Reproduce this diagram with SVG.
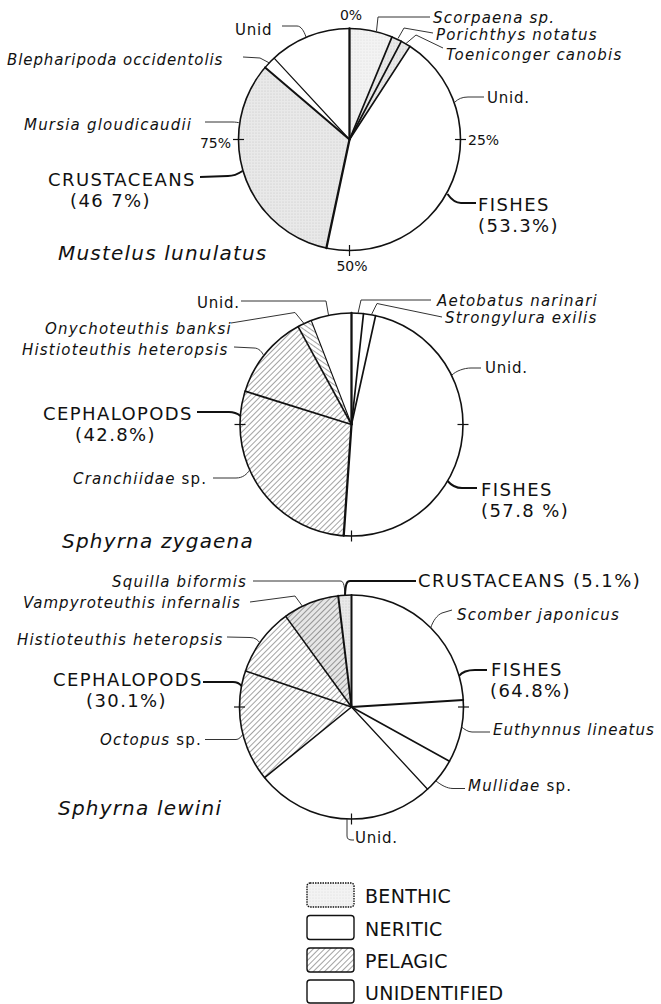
<svg xmlns="http://www.w3.org/2000/svg" width="661" height="1004" viewBox="0 0 661 1004">
<style>
text{font-family:"DejaVu Sans","Liberation Sans",sans-serif;fill:#111}
.sp{font-style:italic;font-size:15px;letter-spacing:1.2px}
.up{font-style:normal}
.cap{font-size:18px;letter-spacing:1.4px}
.pct{font-size:14px}
.title{font-style:italic;font-size:20px;letter-spacing:1.2px}
.unid{font-size:15px;letter-spacing:0.8px}
.leg{font-size:19px;letter-spacing:0.3px}
.outline{fill:none;stroke:#111;stroke-width:1.6}
.div{fill:none;stroke:#111;stroke-width:1.4;stroke-linecap:round}
.divb{fill:none;stroke:#111;stroke-width:2.3;stroke-linecap:round}
.lead{fill:none;stroke:#333;stroke-width:1}
.leadb{fill:none;stroke:#111;stroke-width:2}
.tick{stroke:#111;stroke-width:1.2}
.w{fill:#fff}
.ben{fill:url(#stip)}
.benl{fill:url(#stipl)}
.pel{fill:url(#hatch)}
.pel2{fill:url(#hatch2)}
.box{stroke:#111;stroke-width:1.4}
</style>
<defs>
<pattern id="stip" width="3" height="3" patternUnits="userSpaceOnUse"><rect width="3" height="3" fill="#e9e9e9"/><circle cx="1" cy="1" r="0.55" fill="#c2c2c2"/></pattern>
<pattern id="stipl" width="3" height="3" patternUnits="userSpaceOnUse"><rect width="3" height="3" fill="#f3f3f3"/><circle cx="1" cy="1" r="0.5" fill="#d6d6d6"/></pattern>
<pattern id="hatch" width="4" height="4" patternUnits="userSpaceOnUse" patternTransform="rotate(45)"><rect width="4" height="4" fill="#fff"/><line x1="0" y1="0" x2="0" y2="4" stroke="#333" stroke-width="0.9"/></pattern>
<pattern id="hatch2" width="4" height="4" patternUnits="userSpaceOnUse" patternTransform="rotate(-55)"><rect width="4" height="4" fill="#fff"/><line x1="0" y1="0" x2="0" y2="4" stroke="#333" stroke-width="0.9"/></pattern>
<pattern id="hatchg" width="4" height="4" patternUnits="userSpaceOnUse" patternTransform="rotate(45)"><rect width="4" height="4" fill="#e6e6e6"/><line x1="0" y1="0" x2="0" y2="4" stroke="#333" stroke-width="0.9"/></pattern>
</defs>

<!-- Pie 1: Mustelus lunulatus -->
<g id="pie-mustelus">
<path class="benl" d="M349.5,139.5 L349.5,28.5 A111,111 0 0 1 392,36.9 Z"/>
<path class="ben" d="M349.5,139.5 L392,36.9 A111,111 0 0 1 401.3,41.3 Z"/>
<path class="ben" d="M349.5,139.5 L401.3,41.3 A111,111 0 0 1 410,46.4 Z"/>
<path class="w" d="M349.5,139.5 L410,46.4 A111,111 0 0 1 326.4,248.1 Z"/>
<path class="ben" d="M349.5,139.5 L326.4,248.1 A111,111 0 0 1 265.1,67.4 Z"/>
<path class="w" d="M349.5,139.5 L265.1,67.4 A111,111 0 0 1 274.1,58.1 Z"/>
<path class="w" d="M349.5,139.5 L274.1,58.1 A111,111 0 0 1 349.5,28.5 Z"/>
<circle class="outline" cx="349.5" cy="139.5" r="111"/>
<line class="divb" x1="349.5" y1="139.5" x2="349.5" y2="28.5"/>
<line class="div" x1="349.5" y1="139.5" x2="392" y2="36.9" style="stroke-width:1.7"/>
<line class="div" x1="349.5" y1="139.5" x2="401.3" y2="41.3" style="stroke-width:1.7"/>
<line class="div" x1="349.5" y1="139.5" x2="410" y2="46.4" style="stroke-width:1.7"/>
<line class="divb" x1="349.5" y1="139.5" x2="326.4" y2="248.1"/>
<line class="divb" x1="349.5" y1="139.5" x2="265.1" y2="67.4" style="stroke-width:2"/>
<line class="div" x1="349.5" y1="139.5" x2="274.1" y2="58.1" style="stroke-width:1.2"/>
<line class="tick" x1="455" y1="139.5" x2="466" y2="139.5"/>
<line class="tick" x1="233" y1="139.5" x2="244" y2="139.5"/>
<line class="tick" x1="349.5" y1="245" x2="349.5" y2="256"/>
</g>
<g id="labels-mustelus">
<text class="pct" x="351" y="20" text-anchor="middle">0%</text>
<text class="pct" x="468" y="145">25%</text>
<text class="pct" x="352" y="271" text-anchor="middle">50%</text>
<text class="pct" x="231" y="148" text-anchor="end">75%</text>
<text class="sp" x="433" y="23">Scorpaena sp.</text>
<text class="sp" x="436" y="39.5">Porichthys notatus</text>
<text class="sp" x="446" y="59.5">Toeniconger canobis</text>
<text class="unid" x="487" y="103">Unid.</text>
<text class="cap" x="478" y="211">FISHES<tspan x="478" dy="21">(53.3%)</tspan></text>
<text class="cap" x="48" y="185.5">CRUSTACEANS<tspan x="70" dy="21">(46 7%)</tspan></text>
<text class="sp" x="24" y="129.5">Mursia gloudicaudii</text>
<text class="sp" x="7" y="64.5" style="letter-spacing:0.9px">Blepharipoda occidentolis</text>
<text class="unid" x="235" y="35">Unid</text>
<text class="title" x="58" y="260">Mustelus lunulatus</text>
</g>

<!-- Pie 2: Sphyrna zygaena -->
<g id="pie-zygaena">
<path class="w" d="M351.5,424.5 L351.5,313 A111.5,111.5 0 0 1 363.5,313.6 Z"/>
<path class="w" d="M351.5,424.5 L363.5,313.6 A111.5,111.5 0 0 1 375.6,315.6 Z"/>
<path class="w" d="M351.5,424.5 L375.6,315.6 A111.5,111.5 0 0 1 343.7,535.7 Z"/>
<path class="pel" d="M351.5,424.5 L343.7,535.7 A111.5,111.5 0 0 1 245.1,391.2 Z"/>
<path class="pel" d="M351.5,424.5 L245.1,391.2 A111.5,111.5 0 0 1 298.1,326.6 Z"/>
<path class="pel2" d="M351.5,424.5 L298.1,326.6 A111.5,111.5 0 0 1 311.2,320.5 Z"/>
<path class="w" d="M351.5,424.5 L311.2,320.5 A111.5,111.5 0 0 1 351.5,313 Z"/>
<circle class="outline" cx="351.5" cy="424.5" r="111.5"/>
<line class="divb" x1="351.5" y1="424.5" x2="351.5" y2="313"/>
<line class="div" x1="351.5" y1="424.5" x2="363.5" y2="313.6" style="stroke-width:1.7"/>
<line class="div" x1="351.5" y1="424.5" x2="375.6" y2="315.6" style="stroke-width:1.7"/>
<line class="divb" x1="351.5" y1="424.5" x2="343.7" y2="535.7"/>
<line class="div" x1="351.5" y1="424.5" x2="245.1" y2="391.2" style="stroke-width:1.8"/>
<line class="div" x1="351.5" y1="424.5" x2="298.1" y2="326.6" style="stroke-width:1.6"/>
<line class="div" x1="351.5" y1="424.5" x2="311.2" y2="320.5" style="stroke-width:1.1"/>
<line class="tick" x1="457.5" y1="424.5" x2="468.5" y2="424.5"/>
<line class="tick" x1="234.5" y1="424.5" x2="245.5" y2="424.5"/>
<line class="tick" x1="351.5" y1="530.5" x2="351.5" y2="541.5"/>
</g>
<g id="labels-zygaena">
<text class="unid" x="197" y="308">Unid.</text>
<text class="sp" x="45" y="334">Onychoteuthis banksi</text>
<text class="sp" x="22" y="354.5">Histioteuthis heteropsis</text>
<text class="cap" x="43" y="419.5">CEPHALOPODS<tspan x="75" dy="21">(42.8%)</tspan></text>
<text class="sp" x="73" y="484">Cranchiidae<tspan class="up"> sp.</tspan></text>
<text class="title" x="62" y="548">Sphyrna zygaena</text>
<text class="sp" x="437" y="306">Aetobatus narinari</text>
<text class="sp" x="445" y="323">Strongylura exilis</text>
<text class="unid" x="485" y="373">Unid.</text>
<text class="cap" x="481" y="496">FISHES<tspan x="481" dy="21">(57.8 %)</tspan></text>
</g>

<!-- Pie 3: Sphyrna lewini -->
<g id="pie-lewini">
<path class="w" d="M351.5,707 L351.5,595 A112,112 0 0 1 463.3,700 Z"/>
<path class="w" d="M351.5,707 L463.3,700 A112,112 0 0 1 449.5,761.3 Z"/>
<path class="w" d="M351.5,707 L449.5,761.3 A112,112 0 0 1 427.6,789.2 Z"/>
<path class="w" d="M351.5,707 L427.6,789.2 A112,112 0 0 1 264.6,777.6 Z"/>
<path class="pel" d="M351.5,707 L264.6,777.6 A112,112 0 0 1 245.5,670.9 Z"/>
<path class="pel" d="M351.5,707 L245.5,670.9 A112,112 0 0 1 285.7,616.4 Z"/>
<path fill="url(#hatchg)" d="M351.5,707 L285.7,616.4 A112,112 0 0 1 338.2,595.8 Z"/>
<path class="ben" d="M351.5,707 L338.2,595.8 A112,112 0 0 1 351.5,595 Z"/>
<circle class="outline" cx="351.5" cy="707" r="112"/>
<line class="divb" x1="351.5" y1="707" x2="351.5" y2="595" style="stroke-width:2"/>
<line class="div" x1="351.5" y1="707" x2="463.3" y2="700" style="stroke-width:1.8"/>
<line class="div" x1="351.5" y1="707" x2="449.5" y2="761.3" style="stroke-width:1.6"/>
<line class="div" x1="351.5" y1="707" x2="427.6" y2="789.2" style="stroke-width:1.3"/>
<line class="div" x1="351.5" y1="707" x2="264.6" y2="777.6" style="stroke-width:1.6"/>
<line class="div" x1="351.5" y1="707" x2="245.5" y2="670.9" style="stroke-width:1.6"/>
<line class="div" x1="351.5" y1="707" x2="285.7" y2="616.4" style="stroke-width:1.6"/>
<line class="divb" x1="351.5" y1="707" x2="338.2" y2="595.8" style="stroke-width:2"/>
<line class="tick" x1="458" y1="707" x2="469" y2="707"/>
<line class="tick" x1="234" y1="707" x2="245" y2="707"/>
<line class="tick" x1="351.5" y1="813.5" x2="351.5" y2="824.5"/>
</g>
<g id="labels-lewini">
<text class="sp" x="112" y="587">Squilla biformis</text>
<text class="sp" x="23" y="607.5" style="letter-spacing:1px">Vampyroteuthis infernalis</text>
<text class="sp" x="17" y="644.5">Histioteuthis heteropsis</text>
<text class="cap" x="53" y="686">CEPHALOPODS<tspan x="86" dy="21">(30.1%)</tspan></text>
<text class="sp" x="100" y="744.5">Octopus<tspan class="up"> sp.</tspan></text>
<text class="title" x="58" y="815">Sphyrna lewini</text>
<text class="cap" x="418" y="587">CRUSTACEANS (5.1%)</text>
<text class="sp" x="457" y="619.5">Scomber japonicus</text>
<text class="cap" x="491" y="676">FISHES<tspan x="490" dy="21">(64.8%)</tspan></text>
<text class="sp" x="493" y="734.5" style="letter-spacing:1px">Euthynnus lineatus</text>
<text class="sp" x="468" y="791">Mullidae<tspan class="up"> sp.</tspan></text>
<text class="unid" x="355" y="843">Unid.</text>
</g>

<g id="connectors">
<!-- pie 1 -->
<path class="lead" d="M430,17 L378,17 L376.5,31"/>
<path class="lead" d="M433,33 L404,28 L398,38.5"/>
<path class="lead" d="M443,48 L416,35 L406,43.5"/>
<path class="lead" d="M484,97 L468,97 C462,97 458,99 455,102"/>
<path class="leadb" d="M476,203 L461,203 C455,203 451,199 447.5,194"/>
<path class="leadb" d="M200,177 L228,176 C234,176 238,174 242.5,171"/>
<path class="lead" d="M205,122 L232,122 C236,122 238,122.5 240,123"/>
<path class="lead" d="M243,57 L260,58 L269.5,63"/>
<path class="lead" d="M282,26 L297,26 C301,26 304,31 306,37"/>
<!-- pie 2 -->
<path class="lead" d="M241,301 L326,301 L328.5,315"/>
<path class="lead" d="M231,323 L295,312.5 L304,323.5"/>
<path class="lead" d="M234,347 L254,348 C259,348 262,352 264,356"/>
<path class="leadb" d="M197,412 L229,412 C235,412 238,414 240.5,416"/>
<path class="lead" d="M213,478 L236,478 C243,478 247,474 249.7,470"/>
<path class="lead" d="M431,300 L361,300 L358,313.3"/>
<path class="lead" d="M442,317 L377,303.5 L371.5,314.5"/>
<path class="lead" d="M481,368 L471,368 C464,368 456,371 452,375"/>
<path class="leadb" d="M477,488 L462,488 C456,488 451,485 447.6,481"/>
<!-- pie 3 -->
<path class="lead" d="M253,581 L340,581 C343,581 344.5,583 345,595.5"/>
<path class="leadb" d="M416,581 L350,581 C347,581 345.5,583 345,595.5"/>
<path class="lead" d="M250,602 L295,596 L302.5,606.3"/>
<path class="lead" d="M227,637 L250,637.5 C255,637.5 258,640 260,643"/>
<path class="leadb" d="M203,682 L233,682 C238,682 240,684 241.5,686"/>
<path class="lead" d="M205,739.5 L236,739.5 C239,739.5 241,737 243,734"/>
<path class="lead" d="M452,610 L442,613 C437,615 433,621 430.7,627.8"/>
<path class="leadb" d="M487,670 L475,670 C468,670 462,672 459,676"/>
<path class="lead" d="M490,732 L472,732 C468,732 464,729 461.7,727"/>
<path class="lead" d="M465,788.5 L453,788.5 C447,788.5 441,785 436,781"/>
<path class="lead" d="M347,819 L347,836 C347,839 349,840 352,840 L354,840"/>
</g>

<g id="legend">
<rect class="box" x="307" y="883" width="47" height="24" rx="3" fill="url(#stipl)" style="stroke-dasharray:1.5 1"/>
<text class="leg" x="365" y="903">BENTHIC</text>
<rect class="box" x="307" y="915.5" width="47" height="24" rx="3" fill="#fff"/>
<text class="leg" x="365" y="936">NERITIC</text>
<rect class="box" x="307" y="948" width="47" height="24" rx="3" fill="url(#hatch)"/>
<text class="leg" x="365" y="968">PELAGIC</text>
<rect class="box" x="307" y="980" width="47" height="23" rx="3" fill="#fff"/>
<text class="leg" x="365" y="1000">UNIDENTIFIED</text>
</g>
</svg>
